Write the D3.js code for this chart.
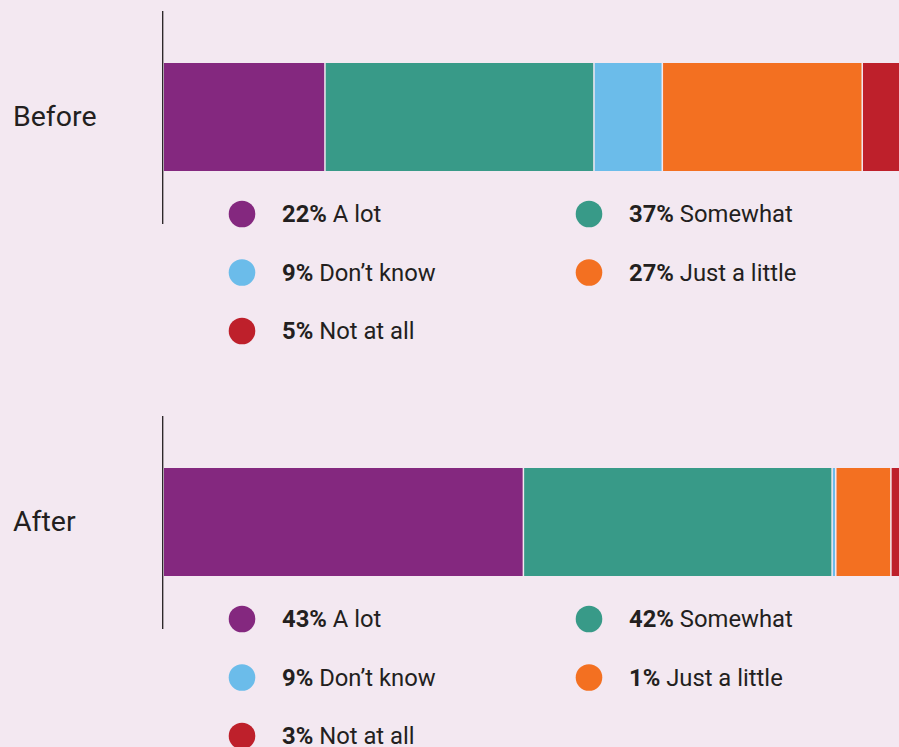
<!DOCTYPE html>
<html>
<head>
<meta charset="utf-8">
<script src="https://cdn.jsdelivr.net/npm/d3@7"></script>
<style>
  body { margin: 0; background: #f3e8f1; }
  svg { display: block; font-family: Roboto, "Noto Sans", sans-serif; }
</style>
</head>
<body>
<div id="chart"></div>
<script>
const groups = ['Before', 'After'];
const categories = ['A lot', 'Somewhat', 'Don\u2019t know', 'Just a little', 'Not at all'];
const colors = ['#84287f', '#389a88', '#6bbcea', '#f37021', '#be202b'];

// percentages printed in the legends
const labelBefore = [22, 37, 9, 27, 5];
const labelAfter = [43, 42, 9, 1, 3];

// segment widths as drawn in the bars
const barBefore = [22, 36.6, 9.3, 27.2, 4.9];
const barAfter = [49, 42, 0.5, 7.5, 1];

const width = 899, height = 747;

const svg = d3.select('#chart').append('svg')
  .attr('width', width).attr('height', height);

const x = d3.scaleLinear().domain([0, 100]).range([164, 899]);
const panel = d3.scalePoint().domain(groups).range([0, 405]);

// legend grid: 2 columns, row spacing ~58.5
const legCol = d3.scalePoint().domain([0, 1]).range([242, 589]);
const legRow = d3.scaleLinear().domain([0, 1]).range([214, 272.5]);

const rows = [
  { g: 'Before', bars: barBefore, labels: labelBefore },
  { g: 'After', bars: barAfter, labels: labelAfter }
];

rows.forEach(r => {
  const top = panel(r.g);
  const p = svg.append('g').attr('transform', `translate(0,${top})`);

  // stacked segments
  let acc = 0;
  const segs = r.bars.map((v, i) => {
    const s = { x0: acc, x1: acc + v, c: colors[i], last: i == r.bars.length - 1 };
    acc += v;
    return s;
  });

  p.selectAll('rect').data(segs).enter().append('rect')
    .attr('x', d => x(d.x0))
    .attr('y', 63)
    .attr('width', d => Math.max(0, x(d.x1) - x(d.x0) - (d.last ? -2 : 1.5)))
    .attr('height', 108)
    .attr('fill', d => d.c);

  // axis line
  p.append('line')
    .attr('x1', 162.7).attr('x2', 162.7)
    .attr('y1', 11).attr('y2', 224)
    .attr('stroke', '#231f20').attr('stroke-width', 1.3);

  p.append('text')
    .attr('x', 13).attr('y', 116).attr('dy', '0.35em')
    .attr('font-size', 28.5).attr('fill', '#231f20')
    .text(r.g);

  // legend
  const items = categories.map((c, i) => ({
    name: c, pct: r.labels[i], c: colors[i],
    col: i % 2, row: Math.floor(i / 2)
  }));

  const it = p.selectAll('g.leg').data(items).enter().append('g')
    .attr('class', 'leg')
    .attr('transform', d => `translate(${legCol(d.col)},${legRow(d.row)})`);

  it.append('circle').attr('r', 13.3).attr('fill', d => d.c);

  const t = it.append('text')
    .attr('x', 40).attr('dy', '0.35em')
    .attr('font-size', 23.8).attr('fill', '#231f20');
  t.append('tspan').attr('font-weight', 700).text(d => d.pct + '%');
  t.append('tspan').text(d => ' ' + d.name);
});
</script>
</body>
</html>
